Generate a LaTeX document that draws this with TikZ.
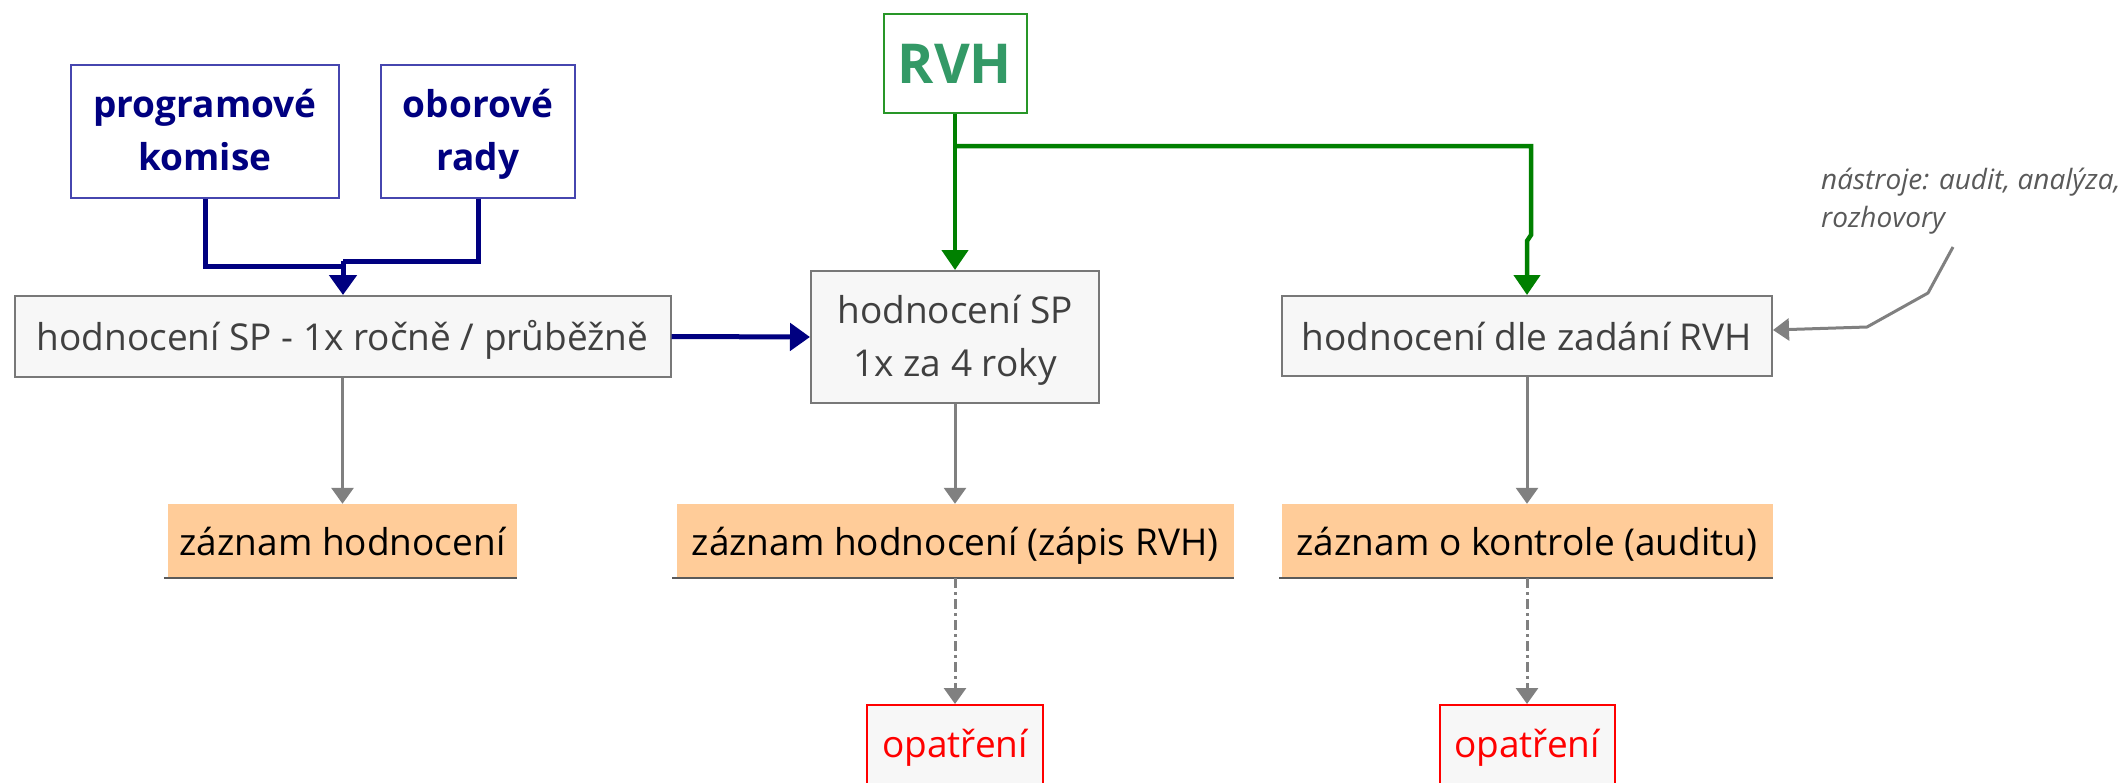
\documentclass[tikz,border=0pt]{standalone}
\usepackage{fontspec}
\setmainfont{Open Sans}
\usetikzlibrary{arrows.meta}
\definecolor{navyc}{RGB}{0,0,128}
\definecolor{navybd}{RGB}{70,70,175}
\definecolor{greenl}{RGB}{0,128,0}
\definecolor{rvhtext}{RGB}{51,153,102}
\definecolor{rvhbd}{RGB}{40,150,40}
\definecolor{boxfill}{RGB}{247,247,247}
\definecolor{boxbd}{RGB}{120,120,120}
\definecolor{evtext}{RGB}{64,64,64}
\definecolor{peach}{RGB}{255,204,153}
\definecolor{reclinec}{RGB}{90,90,90}
\definecolor{arrgray}{RGB}{128,128,128}
\definecolor{redc}{RGB}{255,0,0}
\definecolor{annotc}{RGB}{89,89,89}
\newcommand{\topst}{\rule{0pt}{34pt}}
\newcommand{\botst}{\rule[-9pt]{0pt}{9pt}}
\begin{document}
\begin{tikzpicture}[x=1pt,y=-1pt,
  basenode/.style={inner sep=0pt, align=center, font=\fontsize{37}{53}\selectfont},
  oneline/.style={text height=33pt, text depth=5pt},
  evalbox/.style={basenode, draw=boxbd, line width=2pt, fill=boxfill, text=evtext},
  srcbox/.style={basenode, draw=navybd, line width=2pt, fill=white, text=navyc, font=\fontsize{37}{53}\selectfont\bfseries},
  rvhbox/.style={inner sep=0pt, draw=rvhbd, line width=2pt, fill=white, text=rvhtext, font=\fontsize{55}{60}\selectfont\bfseries},
  recbox/.style={basenode, oneline, fill=peach, text=black},
  recbottom/.style={draw=reclinec, line width=2.5pt},
  opbox/.style={basenode, draw=redc, line width=2pt, fill=boxfill, text=redc, text height=28pt, text depth=9pt},
  annotstyle/.style={inner sep=0pt, align=left, text=annotc, font=\fontsize{28}{38}\selectfont\itshape},
  blueline/.style={draw=navyc, line width=5pt},
  bluearr/.style={blueline, -{Triangle[width=27pt,length=20pt]}},
  greenline/.style={draw=greenl, line width=4.5pt},
  greenarr/.style={greenline, -{Triangle[width=26pt,length=20pt]}},
  grayarr/.style={draw=arrgray, line width=3pt, -{Triangle[width=22pt,length=16pt]}},
  dasharr/.style={grayarr, dash pattern=on 10pt off 4pt on 3pt off 4pt}
]
\useasboundingbox (0,0) rectangle (2128,782);

% source boxes
\node[srcbox, minimum width=268pt, minimum height=133pt] (prog) at (205,131) {\topst programové\\komise\botst};
\node[srcbox, minimum width=194pt, minimum height=133pt] (obor) at (478,131) {\topst oborové\\rady\botst};
\node[rvhbox, minimum width=143pt, minimum height=99pt] (RVH) at (955,63.5) {RVH};

% evaluation boxes
\node[evalbox, oneline, minimum width=656pt, minimum height=81pt] (evalL) at (342.5,336.5) {hodnocení SP - 1x ročně / průběžně};
\node[evalbox, minimum width=288pt, minimum height=132pt] (evalM) at (955,337) {\topst hodnocení SP\\ 1x za 4 roky\botst};
\node[evalbox, oneline, minimum width=490pt, minimum height=80pt] (evalR) at (1527,336) {hodnocení dle zadání RVH};

% annotation
\node[annotstyle, anchor=north west] (ann) at (1821,168) {nástroje: audit, analýza,\\rozhovory};

% records
\node[recbox, minimum width=349pt, minimum height=74pt] (rec1) at (342.5,541) {záznam hodnocení};
\node[recbox, minimum width=557pt, minimum height=74pt] (rec2) at (955,541) {záznam hodnocení (zápis RVH)};
\node[recbox, minimum width=491pt, minimum height=74pt] (rec3) at (1527,541) {záznam o kontrole (auditu)};
\draw[recbottom] ([xshift=-4pt]rec1.south west) -- (rec1.south east);
\draw[recbottom] ([xshift=-4pt]rec2.south west) -- (rec2.south east);
\draw[recbottom] ([xshift=-2pt]rec3.south west) -- (rec3.south east);

% measures
\node[opbox, minimum width=176pt, minimum height=85pt] (op1) at (955,747.5) {opatření};
\node[opbox, minimum width=175pt, minimum height=85pt] (op2) at (1527,747.5) {opatření};

% blue connectors
\coordinate (bj1) at (343,266);
\coordinate (bj2) at (343,261);
\draw[blueline] (prog.south) |- (bj1);
\draw[blueline] (obor.south) |- (bj2);
\draw[bluearr] (bj2) -- (bj2 |- evalL.north);
\draw[bluearr] (evalL.east) -- (evalM.west);

% green connectors
\draw[greenarr] (RVH.south) -- (evalM.north);
\coordinate (gj) at (955,146);
\draw[greenarr] (gj) -- (1531,146) -- (1531,235) -- (1527,241) -- (evalR.north);

% gray connectors
\draw[grayarr] (evalL.south) -- (rec1.north);
\draw[grayarr] (evalM.south) -- (rec2.north);
\draw[grayarr] (evalR.south) -- (rec3.north);
\draw[dasharr] (rec2.south) -- (op1.north);
\draw[dasharr] (rec3.south) -- (op2.north);

% annotation pointer
\coordinate (antail) at (1953,247);
\draw[grayarr] (antail) -- (1928,293) -- (1867,327) -- ([yshift=6pt]evalR.east);
\end{tikzpicture}
\end{document}
